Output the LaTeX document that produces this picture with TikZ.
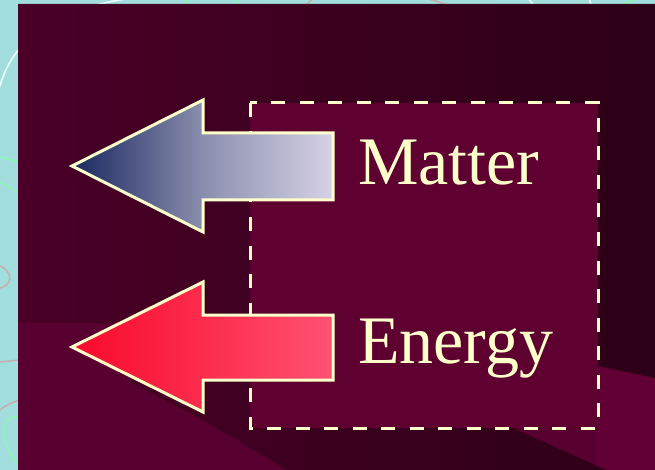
\documentclass[tikz,border=0pt]{standalone}
\usepackage{fontspec}
\setmainfont{Liberation Serif}
\usepackage{tikz}
\usetikzlibrary{calc}
\definecolor{SlideCyan}{HTML}{A3DEDE}
\definecolor{DeepWine}{HTML}{580030}
\definecolor{WineLeft}{HTML}{4A0027}
\definecolor{WineRight}{HTML}{2C0016}
\definecolor{BoxWine}{HTML}{5E0030}
\definecolor{RimWine}{HTML}{620036}
\definecolor{Cream}{HTML}{FFFFCC}
\definecolor{NavyTip}{HTML}{1A2860}
\definecolor{SteelMid}{HTML}{8A8EAE}
\definecolor{Lavender}{HTML}{D6D2E6}
\definecolor{RedTip}{HTML}{F80A2C}
\definecolor{RedMid}{HTML}{FC2C4C}
\definecolor{PinkEnd}{HTML}{FF5272}
\definecolor{SwirlWhite}{HTML}{EAFFFF}
\definecolor{SwirlGreen}{HTML}{90F4B4}
\definecolor{SwirlGrey}{HTML}{C4B0B2}

\tikzset{
  swirl/.style={line width=1.6pt,line cap=round},
  blockarrow/.style={draw=Cream,line width=3pt,line join=miter},
  label/.style={text=Cream,font=\fontsize{68}{70}\selectfont,anchor=base west,inner sep=0pt}
}

\begin{document}
\begin{tikzpicture}[x=1pt,y=-1pt]
  \useasboundingbox (0,0) rectangle (655,470);
  \fill[SlideCyan] (0,0) rectangle (655,470);
  \draw[swirl,SwirlWhite] (0,86) .. controls (14,36) and (60,8) .. (132,-2);
  \draw[swirl,SwirlGreen] (0,157) .. controls (8,159) .. (20,162);
  \draw[swirl,SwirlGreen] (0,182) .. controls (8,186) .. (20,194);
  \draw[swirl,SwirlGrey] (0,266) .. controls (14,272) and (12,286) .. (0,288);
  \draw[swirl,SwirlGrey] (0,362) -- (20,360);
  \draw[swirl,SwirlGrey] (0,410) .. controls (8,404) .. (20,400);
  \draw[swirl,SwirlGreen] (20,418) .. controls (0,410) and (-2,445) .. (20,466);
  \draw[swirl,SwirlGreen] (182,-2) -- (194,8);
  \draw[swirl,SwirlGreen] (232,-2) -- (244,8);
  \draw[swirl,SwirlGrey] (314,-2) -- (302,8);
  \draw[swirl,SwirlGrey] (424,-2) .. controls (440,2) .. (456,8);
  \draw[swirl,SwirlWhite] (528,-2) -- (536,8);
  \draw[swirl,SwirlWhite] (589,-2) -- (592,8);
  \draw[swirl,SwirlGreen] (616,8) -- (636,-2);

  \fill[DeepWine] (18,4) rectangle (655,470);
  \fill[RimWine] (598,366) -- (655,378) -- (655,470) -- (598,470) -- cycle;
  \shade[left color=WineLeft,right color=WineRight]
    (18,4) -- (655,4) -- (655,378) -- (598,366) -- (598,428) -- (513,428)
    -- (606,470) -- (287,470) -- (203,420) -- (130,382) -- (180,323)
    -- (18,323) -- cycle;

  \fill[BoxWine] (250,103) rectangle (598,428);
  \draw[Cream,line width=3pt,dash pattern=on 14pt off 14.5pt] (250,103) rectangle (598,428);

  \shade[blockarrow,left color=NavyTip,right color=Lavender,middle color=SteelMid]
    (72,166) -- (203,100) -- (203,133) -- (333,133) -- (333,200)
    -- (203,200) -- (203,232) -- cycle;
  \shade[blockarrow,left color=RedTip,right color=PinkEnd,middle color=RedMid]
    (72,347) -- (203,282) -- (203,315) -- (333,315) -- (333,380)
    -- (203,380) -- (203,412) -- cycle;

  \node[label] (matter) at (358,185) {Matter};
  \node[label] (energy) at (358,363) {Energy};
\end{tikzpicture}
\end{document}
